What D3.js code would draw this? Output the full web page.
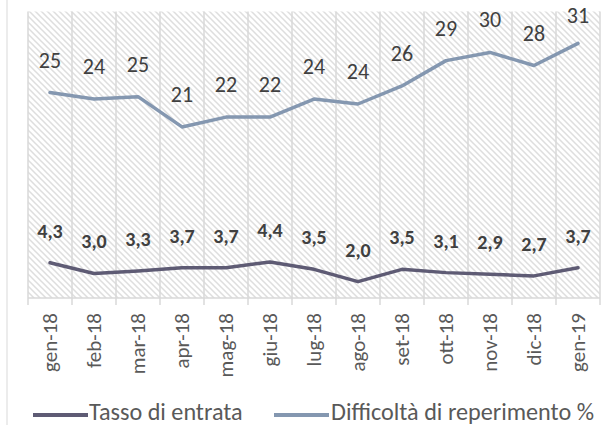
<!DOCTYPE html>
<html>
<head>
<meta charset="utf-8">
<script src="https://cdn.jsdelivr.net/npm/d3@7"></script>
<style>
  html, body { margin: 0; padding: 0; background: #fff; }
  svg { display: block; }
  text { font-family: Carlito, Lato, "Open Sans", sans-serif; }
</style>
</head>
<body>
<svg id="chart" width="603" height="425"></svg>
<script>
// ---- data ----
const categories = ["gen-18","feb-18","mar-18","apr-18","mag-18","giu-18","lug-18","ago-18","set-18","ott-18","nov-18","dic-18","gen-19"];
const tassoEntrata = [4.3, 3.0, 3.3, 3.7, 3.7, 4.4, 3.5, 2.0, 3.5, 3.1, 2.9, 2.7, 3.7];
const difficolta = [25.1, 24.3, 24.6, 20.9, 22.1, 22.1, 24.3, 23.7, 25.9, 29.0, 30.0, 28.4, 31.1];
const seriesNames = ["Tasso di entrata", "Difficoltà di reperimento %"];
const yDomain = [0, 35];

// ---- layout ----
const W = 603, H = 425;
const plot = { left: 28, right: 600, top: 11.5, bottom: 298 };
const colTasso = "#5e5b74";
const colDiff = "#8497b0";
const gridCol = "#d9d9d9";

const svg = d3.select("#chart");

const x = d3.scaleBand().domain(categories).range([plot.left, plot.right]).padding(0);
const y = d3.scaleLinear().domain(yDomain).range([plot.bottom, plot.top]);
const cx = d => x(d) + x.bandwidth() / 2;

// chart area left border
svg.append("line").attr("x1", 7).attr("x2", 7).attr("y1", 0).attr("y2", H)
  .attr("stroke", gridCol).attr("stroke-width", 1);

// hatch pattern
const defs = svg.append("defs");
const pat = defs.append("pattern").attr("id", "hatch")
  .attr("patternUnits", "userSpaceOnUse").attr("width", 6).attr("height", 6);
pat.append("rect").attr("width", 6).attr("height", 6).attr("fill", "#ffffff");
pat.append("path").attr("d", "M-1,-1 L7,7 M-1,5 L1,7 M5,-1 L7,1")
  .attr("stroke", "#dedede").attr("stroke-width", 1.5);

svg.append("rect")
  .attr("x", plot.left).attr("y", plot.top)
  .attr("width", plot.right - plot.left).attr("height", plot.bottom - plot.top)
  .attr("fill", "url(#hatch)");

// vertical gridlines at category boundaries
const bounds = categories.map(c => x(c)).concat([x.range()[1]]);
svg.append("g").selectAll("line").data(bounds).join("line")
  .attr("x1", d => d).attr("x2", d => d)
  .attr("y1", plot.top).attr("y2", plot.bottom)
  .attr("stroke", gridCol).attr("stroke-width", 1.5);

// x axis line and ticks
svg.append("line").attr("x1", plot.left).attr("x2", plot.right)
  .attr("y1", plot.bottom).attr("y2", plot.bottom)
  .attr("stroke", gridCol).attr("stroke-width", 1.5);
svg.append("g").selectAll("line").data(bounds).join("line")
  .attr("x1", d => d).attr("x2", d => d)
  .attr("y1", plot.bottom).attr("y2", plot.bottom + 7)
  .attr("stroke", gridCol).attr("stroke-width", 1.5);

// tick labels (rotated)
svg.append("g").selectAll("text").data(categories).join("text")
  .attr("transform", d => `translate(${cx(d)},313) rotate(-90)`)
  .attr("text-anchor", "end")
  .attr("dy", "0.35em")
  .attr("font-size", 21)
  .attr("fill", "#595959")
  .text(d => d);

// lines
const line = d3.line().x((d, i) => cx(categories[i])).y(d => y(d));
svg.append("path").datum(difficolta).attr("d", line)
  .attr("fill", "none").attr("stroke", colDiff).attr("stroke-width", 3.5)
  .attr("stroke-linejoin", "round").attr("stroke-linecap", "round");
svg.append("path").datum(tassoEntrata).attr("d", line)
  .attr("fill", "none").attr("stroke", colTasso).attr("stroke-width", 3.5)
  .attr("stroke-linejoin", "round").attr("stroke-linecap", "round");

// data labels
const fmtInt = d3.format(".0f");
const fmtDec = v => d3.format(".1f")(v).replace(".", ",");
svg.append("g").selectAll("text").data(difficolta).join("text")
  .attr("x", (d, i) => cx(categories[i]))
  .attr("y", d => Math.max(y(d) - 25, 23))
  .attr("text-anchor", "middle")
  .attr("font-size", 22)
  .attr("fill", "#404040")
  .text(d => fmtInt(d));
svg.append("g").selectAll("text").data(tassoEntrata).join("text")
  .attr("x", (d, i) => cx(categories[i]))
  .attr("y", d => y(d) - 25)
  .attr("text-anchor", "middle")
  .attr("font-size", 20)
  .attr("font-weight", "bold")
  .attr("fill", "#404040")
  .text(d => fmtDec(d));

// legend
const legend = [
  { name: seriesNames[0], color: colTasso, x1: 33, x2: 88, tx: 89 },
  { name: seriesNames[1], color: colDiff, x1: 274, x2: 329, tx: 331 }
];
const lg = svg.append("g").selectAll("g").data(legend).join("g");
lg.append("line").attr("x1", d => d.x1).attr("x2", d => d.x2)
  .attr("y1", 415).attr("y2", 415)
  .attr("stroke", d => d.color).attr("stroke-width", 4);
lg.append("text").attr("x", d => d.tx).attr("y", 420)
  .attr("font-size", 24.2).attr("fill", "#595959")
  .text(d => d.name);
</script>
</body>
</html>
